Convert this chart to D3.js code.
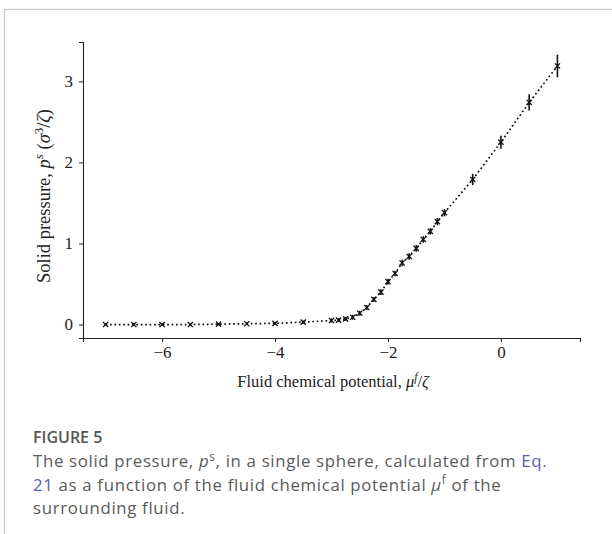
<!DOCTYPE html>
<html><head><meta charset="utf-8">
<script src="https://cdn.jsdelivr.net/npm/d3@7"></script>
<style>body{margin:0;background:#fff} svg{display:block}</style>
</head><body>
<svg id="c" width="612" height="534"></svg>
<script>
// Data
const mu = [-7, -6.5, -6, -5.5, -5, -4.5, -4, -3.5, -3, -2.875, -2.75, -2.625, -2.5, -2.375, -2.25, -2.125, -2, -1.875, -1.75, -1.625, -1.5, -1.375, -1.25, -1.125, -1, -0.5, 0, 0.5, 1];
const pressure = [0.0, 0.0, 0.0, 0.0, 0.005, 0.01, 0.015, 0.03, 0.05, 0.055, 0.07, 0.09, 0.14, 0.21, 0.31, 0.40, 0.53, 0.63, 0.76, 0.84, 0.94, 1.05, 1.15, 1.27, 1.38, 1.79, 2.25, 2.74, 3.19];
const errs = [0.005, 0.005, 0.005, 0.005, 0.005, 0.006, 0.008, 0.01, 0.015, 0.015, 0.015, 0.02, 0.02, 0.02, 0.02, 0.025, 0.025, 0.025, 0.03, 0.03, 0.03, 0.03, 0.03, 0.035, 0.035, 0.06, 0.07, 0.09, 0.13];
const xTicks = [-6, -4, -2, 0];
const yTicks = [0, 1, 2, 3];
const xDomain = [-7.4, 1.4];
const yDomain = [-0.166, 3.486];

const svg = d3.select("#c");
const serif = "'Liberation Serif', 'DejaVu Serif', serif";
const sans = "'Open Sans', 'Noto Sans', sans-serif";

// outer frame
svg.append("rect").attr("x", 4.5).attr("y", 9.5).attr("width", 700).attr("height", 600)
  .attr("fill", "none").attr("stroke", "#c8c8c8").attr("stroke-width", 1.2);

const x = d3.scaleLinear().domain(xDomain).range([83, 580]);
const y = d3.scaleLinear().domain(yDomain).range([338, 42]);

const g = svg.append("g");

// axes
const fmt = d3.format("d");
const xAxis = d3.axisBottom(x).tickValues(xTicks).tickFormat(fmt).tickSize(4).tickPadding(4);
const yAxis = d3.axisLeft(y).tickValues(yTicks).tickFormat(fmt).tickSize(4).tickPadding(6);
const gx = g.append("g").attr("transform", "translate(0,338)").call(xAxis);
const gy = g.append("g").attr("transform", "translate(83,0)").call(yAxis);
[gx, gy].forEach(a => {
  a.attr("font-family", serif).attr("font-size", 17);
  a.select(".domain").attr("stroke", "#222").attr("stroke-width", 1.1);
  a.selectAll(".tick line").attr("stroke", "#222").attr("stroke-width", 1);
  a.selectAll(".tick text").attr("font-family", serif).attr("font-size", 17).attr("fill", "#222");
});

// dotted line
const line = d3.line().x((d, i) => x(mu[i])).y((d, i) => y(pressure[i]));
g.append("path").datum(pressure).attr("d", line).attr("fill", "none")
  .attr("stroke", "#111").attr("stroke-width", 1.7).attr("stroke-dasharray", "1.7,2.7");

// error bars
g.selectAll("line.err").data(pressure).join("line").attr("class", "err")
  .attr("x1", (d, i) => x(mu[i])).attr("x2", (d, i) => x(mu[i]))
  .attr("y1", (d, i) => y(d - errs[i]) + 0.8).attr("y2", (d, i) => y(d + errs[i]) - 0.8)
  .attr("stroke", "#111").attr("stroke-width", 1.6);

// x markers
const ms = 2.6;
const mk = g.selectAll("g.mk").data(pressure).join("g").attr("class", "mk")
  .attr("transform", (d, i) => `translate(${x(mu[i])},${y(d)})`);
mk.append("path").attr("d", `M${-ms},${-ms}L${ms},${ms}M${-ms},${ms}L${ms},${-ms}`)
  .attr("stroke", "#111").attr("stroke-width", 1.3).attr("fill", "none");

// rich text helper
function rich(sel, parts, fs) {
  parts.forEach(p => {
    const t = sel.append("tspan").text(p.t);
    if (p.i) t.attr("font-style", "italic");
    if (p.sup) { t.attr("font-size", fs * 0.7).attr("dy", -fs * 0.38); }
    if (p.down) { t.attr("dy", fs * 0.38); }
    if (p.fill) t.attr("fill", p.fill);
  });
}

// x label
const xl = svg.append("text").attr("x", 333).attr("y", 387).attr("text-anchor", "middle")
  .attr("font-family", serif).attr("font-size", 16.5).attr("fill", "#222");
rich(xl, [{t: "Fluid chemical potential, "}, {t: "μ", i: 1}, {t: "f", i: 1, sup: 1}, {t: "/", down: 1}, {t: "ζ", i: 1}], 16.5);

// y label
const yl = svg.append("text").attr("transform", "translate(50,196) rotate(-90)").attr("text-anchor", "middle")
  .attr("font-family", serif).attr("font-size", 18.5).attr("fill", "#222");
rich(yl, [{t: "Solid pressure, "}, {t: "p", i: 1}, {t: "s", i: 1, sup: 1}, {t: " (", down: 1}, {t: "σ", i: 1}, {t: "3", sup: 1}, {t: "/", down: 1}, {t: "ζ", i: 1}, {t: ")"}], 18.5);

// caption
const grey = "#5a5a5a", link = "#5b5ba8";
svg.append("text").attr("x", 33).attr("y", 443).attr("font-family", sans).attr("font-size", 16)
  .attr("font-weight", 600).attr("fill", "#555").text("FIGURE 5");
const lines = [
  [{t: "The solid pressure, "}, {t: "p", i: 1}, {t: "s", sup: 1}, {t: ", in a single sphere, calculated from ", down: 1}, {t: "Eq.", fill: link}],
  [{t: "21", fill: link}, {t: " as a function of the fluid chemical potential "}, {t: "μ", i: 1}, {t: "f", sup: 1}, {t: " of the", down: 1}],
  [{t: "surrounding fluid."}]
];
lines.forEach((ln, k) => {
  const t = svg.append("text").attr("x", 33).attr("y", 467 + k * 23.5).attr("font-family", sans)
    .attr("font-size", 16.8).attr("letter-spacing", 0.68).attr("fill", grey);
  rich(t, ln, 16.8);
});
</script>
</body></html>
